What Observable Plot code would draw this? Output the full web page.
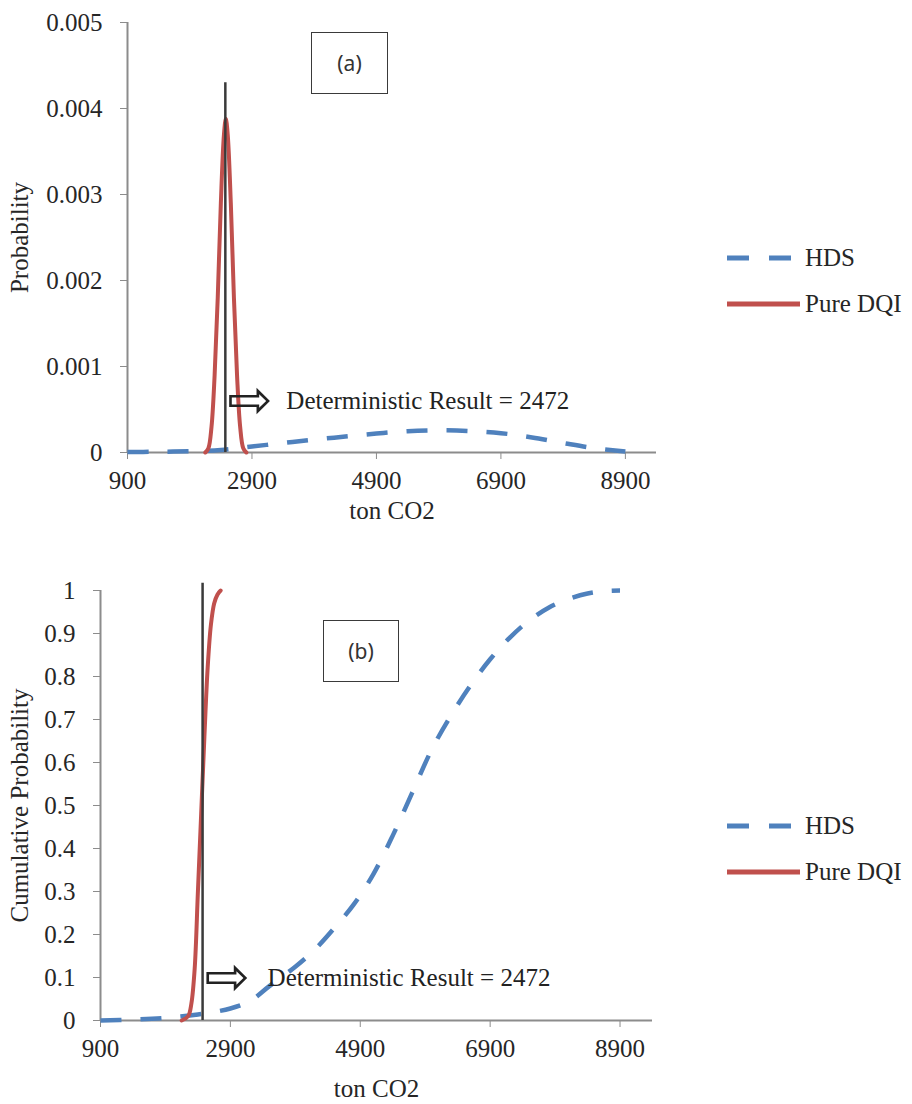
<!DOCTYPE html>
<html>
<head>
<meta charset="utf-8">
<script src="https://cdn.jsdelivr.net/npm/d3@7"></script>
<script src="https://cdn.jsdelivr.net/npm/@observablehq/plot@0.6"></script>
<style>
  body { margin: 0; background: #fff; }
  #wrap { position: relative; width: 912px; height: 1104px; font-family: "Liberation Serif", serif; color: #262626; }
  .panel { position: absolute; left: 0; }
  .tag { position: absolute; box-sizing: border-box; border: 1.6px solid #3a3a3a; background: #fff;
         font-family: "Noto Sans", sans-serif; font-size: 21px; color: #333;
         display: flex; align-items: center; justify-content: center; }
  .legend { position: absolute; left: 727px; font-size: 25px; }
  .row { display: flex; align-items: center; height: 30px; white-space: nowrap; }
  .row svg { display: block; margin-right: 5px; }
</style>
</head>
<body>
<div id="wrap"></div>
<script>
// Shared x axis (tonnes of CO2)
const xTicks = [900, 2900, 4900, 6900, 8900];
const deterministic = 2472;
const seriesNames = ["HDS", "Pure DQI"];

// (a) probability density
const pdfTicks = [0, 0.001, 0.002, 0.003, 0.004, 0.005];
const pdfTickLabels = ["0", "0.001", "0.002", "0.003", "0.004", "0.005"];
const hdsPdfX = [900, 1300, 1900, 2400, 2900, 3400, 3900, 4400, 4900, 5400, 5900, 6400, 6900, 7400, 7900, 8400, 8900];
const hdsPdfP = [0.000005, 0.000008, 0.000015, 0.00003, 0.00007, 0.00011, 0.00015, 0.000185, 0.00022, 0.000248, 0.000258, 0.00025, 0.000225, 0.000175, 0.00011, 0.00005, 0.000012];
const dqiPdfX = [2150, 2200, 2250, 2300, 2350, 2400, 2450, 2480, 2510, 2560, 2610, 2660, 2710, 2760, 2810];
const dqiPdfP = [0, 0.00005, 0.0003, 0.0009, 0.0018, 0.0029, 0.0037, 0.00388, 0.0037, 0.0029, 0.0018, 0.0009, 0.0003, 0.00005, 0];

// (b) cumulative probability
const cdfTicks = [0, 0.1, 0.2, 0.3, 0.4, 0.5, 0.6, 0.7, 0.8, 0.9, 1];
const cdfTickLabels = ["0", "0.1", "0.2", "0.3", "0.4", "0.5", "0.6", "0.7", "0.8", "0.9", "1"];
const hdsCdfX = [900, 1400, 1900, 2400, 2900, 3200, 3500, 3900, 4200, 4500, 4800, 5100, 5400, 5700, 6000, 6300, 6600, 6900, 7200, 7500, 7800, 8100, 8400, 8700, 8900];
const hdsCdfP = [0, 0.002, 0.006, 0.014, 0.028, 0.045, 0.08, 0.125, 0.165, 0.215, 0.27, 0.34, 0.43, 0.53, 0.63, 0.71, 0.78, 0.84, 0.89, 0.93, 0.96, 0.98, 0.993, 0.999, 1];
const dqiCdfX = [2150, 2250, 2300, 2350, 2400, 2450, 2500, 2550, 2600, 2650, 2700, 2750];
const dqiCdfP = [0, 0.01, 0.04, 0.12, 0.3, 0.48, 0.66, 0.82, 0.92, 0.97, 0.99, 1];

const colors = {"HDS": "#4F81BD", "Pure DQI": "#C0504D"};
const axisGray = "#8c8c8c";
const textColor = "#262626";

const rows = (xs, ps) => xs.map((x, i) => ({x, p: ps[i]}));

function panel({hds, dqi, ticks, tickLabels, yDomain, ruleTop, noteY, yLabel, layout}) {
  const tickText = new Map(ticks.map((t, i) => [t, tickLabels[i]]));
  return Plot.plot({
    width: 912,
    height: layout.height,
    marginLeft: layout.left,
    marginRight: layout.right,
    marginTop: layout.top,
    marginBottom: layout.bottom,
    style: {fontFamily: "Liberation Serif, serif", fontSize: "25px", color: textColor, background: "transparent", overflow: "visible"},
    x: {domain: [900, 9400]},
    y: {domain: yDomain},
    marks: [
      Plot.axisX({ticks: xTicks, tickFormat: d => String(d), tickSize: 7, tickPadding: 12,
                  stroke: axisGray, fill: textColor, label: "ton CO2", labelAnchor: "center",
                  labelArrow: "none", labelOffset: layout.xLabelOffset}),
      Plot.axisY({ticks, tickFormat: d => tickText.get(d), tickSize: 7, tickPadding: 18,
                  stroke: axisGray, fill: textColor, label: yLabel, labelAnchor: "center",
                  labelArrow: "none", labelOffset: layout.yLabelOffset}),
      Plot.ruleY([0], {stroke: axisGray, strokeWidth: 2}),
      Plot.ruleX([900], {stroke: axisGray, strokeWidth: 2}),
      Plot.line(hds, {x: "x", y: "p", stroke: colors["HDS"], strokeWidth: 4.5,
                      strokeDasharray: "21,19", strokeLinecap: "butt", curve: "catmull-rom"}),
      Plot.line(dqi, {x: "x", y: "p", stroke: colors["Pure DQI"], strokeWidth: 4, curve: "catmull-rom"}),
      Plot.ruleX([deterministic], {y1: 0, y2: ruleTop, stroke: "#3a3a3a", strokeWidth: 2.5}),
      Plot.text([deterministic], {x: d => d, y: () => noteY, text: () => "\u21E8", textAnchor: "start",
                                  dx: layout.arrowDx, fontFamily: "DejaVu Sans", fontSize: 54, fill: "#222"}),
      Plot.text([deterministic], {x: d => d, y: () => noteY, text: d => `Deterministic Result = ${d}`,
                                  textAnchor: "start", dx: layout.noteDx, fill: "#222"})
    ]
  });
}

const wrap = document.getElementById("wrap");

const a = panel({
  hds: rows(hdsPdfX, hdsPdfP), dqi: rows(dqiPdfX, dqiPdfP),
  ticks: pdfTicks, tickLabels: pdfTickLabels, yDomain: [0, 0.005],
  ruleTop: 0.0043, noteY: 0.0006, yLabel: "Probability",
  layout: {height: 560, left: 127, right: 256, top: 22, bottom: 108,
           xLabelOffset: 66, yLabelOffset: 117, arrowDx: 2, noteDx: 61}
});
a.classList.add("panel");
a.style.top = "0px";
wrap.appendChild(a);

const b = panel({
  hds: rows(hdsCdfX, hdsCdfP), dqi: rows(dqiCdfX, dqiCdfP),
  ticks: cdfTicks, tickLabels: cdfTickLabels, yDomain: [0, 1],
  ruleTop: 1.017, noteY: 0.1, yLabel: "Cumulative Probability",
  layout: {height: 544, left: 100, right: 260, top: 30, bottom: 84,
           xLabelOffset: 76, yLabelOffset: 90, arrowDx: 2, noteDx: 65}
});
b.classList.add("panel");
b.style.top = "560px";
wrap.appendChild(b);

// Panel tags
function tag(text, left, top, w, h) {
  const d = document.createElement("div");
  d.className = "tag";
  d.textContent = text;
  Object.assign(d.style, {left: left + "px", top: top + "px", width: w + "px", height: h + "px"});
  wrap.appendChild(d);
}
tag("(a)", 311, 32, 77, 62);
tag("(b)", 323, 620, 76, 62);

// Legends
function legend(top) {
  const lg = document.createElement("div");
  lg.className = "legend";
  lg.style.top = top + "px";
  seriesNames.forEach((name, i) => {
    const row = document.createElement("div");
    row.className = "row";
    if (i > 0) row.style.marginTop = "16px";
    const dash = name === "HDS" ? 'stroke-dasharray="22,20"' : "";
    row.innerHTML = `<svg width="73" height="10"><line x1="0" x2="73" y1="5" y2="5" stroke="${colors[name]}" stroke-width="5" ${dash}/></svg><span>${name}</span>`;
    lg.appendChild(row);
  });
  wrap.appendChild(lg);
}
legend(243);
legend(811);
</script>
</body>
</html>
